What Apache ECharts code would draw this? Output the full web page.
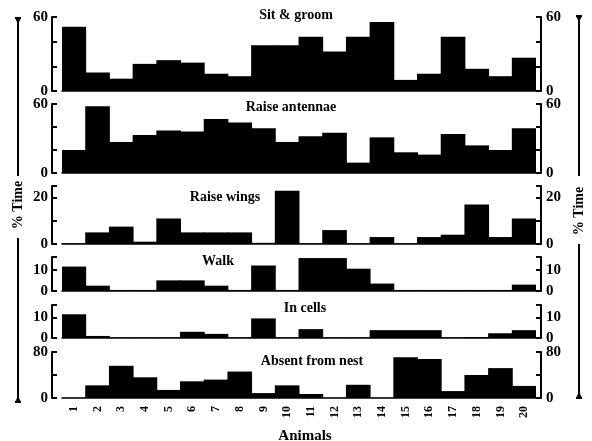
<!DOCTYPE html>
<html>
<head>
<meta charset="utf-8">
<script src="https://cdn.jsdelivr.net/npm/echarts@6/dist/echarts.min.js"></script>
<style>
  html, body { margin: 0; padding: 0; background: #fff; }
  #chart { width: 592px; height: 441px; }
</style>
</head>
<body>
<div id="chart"></div>
<script>
// Percentage of time each of 20 animals spent on each behaviour
const animals = ['1','2','3','4','5','6','7','8','9','10','11','12','13','14','15','16','17','18','19','20'];

const sitGroom      = [52, 15, 10, 22, 25, 23, 14, 12, 37, 37, 44, 32, 44, 56, 9, 14, 44, 18, 12, 27];
const raiseAntennae = [20, 58, 27, 33, 37, 36, 47, 44, 39, 27, 32, 35, 9, 31, 18, 16, 34, 24, 20, 39];
const raiseWings    = [0.3, 5, 7.5, 1, 11, 5, 5, 5, 0.5, 23, 0.3, 6, 0.3, 3, 0.3, 3, 4, 17, 3, 11];
const walk          = [11.5, 2.5, 0.5, 0.5, 5, 5, 2.5, 0.5, 12, 0.5, 15.5, 15.5, 10.5, 3.5, 0.5, 0.5, 0.5, 0.5, 0.5, 3];
const inCells       = [11.5, 1, 0.3, 0.3, 0.3, 3, 2, 0.3, 9.5, 0.3, 4.3, 0.3, 0.3, 3.8, 3.8, 3.8, 0.3, 0.5, 2.3, 3.8];
const absentNest    = [0.5, 22, 56, 36, 14, 29, 32, 46, 8.5, 22, 7, 0.5, 23, 0.5, 71, 68, 12, 40, 52, 21];

const panelNames  = ['Sit & groom', 'Raise antennae', 'Raise wings', 'Walk', 'In cells', 'Absent from nest'];
const panelSeries = [sitGroom, raiseAntennae, raiseWings, walk, inCells, absentNest];
const axisMax     = [60, 60, 25, 16, 16, 80];
const tickValues  = [[0, 20, 40, 60], [0, 20, 40, 60], [0, 10, 20, 25], [0, 10, 16], [0, 10, 16], [0, 40, 80]];
const tickLabels  = [[0, 60], [0, 60], [0, 20], [0, 10], [0, 10], [0, 80]];

// Layout of the stacked panels
const plotLeft = 62, plotWidth = 474;
const panelTop    = [17, 104, 186, 257, 305, 352];
const panelHeight = [74, 69, 58, 34, 33, 46];
const titlePos    = [[296, 15], [291, 107], [225, 197], [218, 261], [305, 308], [312, 361]];

const serif = '"Liberation Serif", "DejaVu Serif", serif';
const ink = '#000';

const grid = [], xAxis = [], yAxis = [], series = [], graphic = [];

panelSeries.forEach((values, i) => {
  const last = i === panelSeries.length - 1;
  grid.push({ left: plotLeft, width: plotWidth, top: panelTop[i], height: panelHeight[i] });
  xAxis.push({
    type: 'category', gridIndex: i, data: animals,
    axisLine: { show: true, lineStyle: { color: ink, width: 1.5 } },
    axisTick: { show: false },
    axisLabel: last ? { show: true, rotate: 90, margin: 8, color: ink, fontFamily: serif, fontWeight: 'bold', fontSize: 12 } : { show: false }
  });
  const axisCommon = {
    type: 'value', gridIndex: i, min: 0, max: axisMax[i],
    splitLine: { show: false },
    axisLine: { show: true, lineStyle: { color: ink, width: 2 } },
    axisTick: { show: true, inside: true, length: 5, customValues: tickValues[i], lineStyle: { color: ink, width: 2 } },
    axisLabel: { show: true, customValues: tickLabels[i], color: ink, fontFamily: serif, fontWeight: 'bold', fontSize: 15 }
  };
  yAxis.push(Object.assign({}, axisCommon, { position: 'left', offset: 10,
    axisLabel: Object.assign({}, axisCommon.axisLabel, { margin: 4 }) }));
  yAxis.push(Object.assign({}, axisCommon, { position: 'right', offset: 5,
    axisLabel: Object.assign({}, axisCommon.axisLabel, { margin: 5 }) }));
  // adjacent bars slightly overlap so the columns merge into one solid block
  series.push({
    type: 'bar', name: panelNames[i], xAxisIndex: i, yAxisIndex: 2 * i,
    data: values, barWidth: '104%',
    itemStyle: { color: ink }, silent: true
  });
  graphic.push({
    type: 'text', x: titlePos[i][0], y: titlePos[i][1],
    style: { text: panelNames[i], fill: ink, font: 'bold 14px ' + serif, textAlign: 'center', textVerticalAlign: 'middle' }
  });
});

// "Animals" axis title
graphic.push({
  type: 'text', x: 305, y: 436,
  style: { text: 'Animals', fill: ink, font: 'bold 15px ' + serif, textAlign: 'center', textVerticalAlign: 'middle' }
});

// Vertical "% Time" dimension markers on both sides
function dimension(x, top, gapTop, gapBottom, bottom, labelY) {
  const ls = { stroke: ink, lineWidth: 2 };
  graphic.push({ type: 'line', shape: { x1: x, y1: top, x2: x, y2: gapTop }, style: ls });
  graphic.push({ type: 'line', shape: { x1: x, y1: gapBottom, x2: x, y2: bottom }, style: ls });
  graphic.push({ type: 'line', shape: { x1: x - 3, y1: top, x2: x + 3, y2: top }, style: ls });
  graphic.push({ type: 'line', shape: { x1: x - 3, y1: bottom, x2: x + 3, y2: bottom }, style: ls });
  graphic.push({ type: 'polygon', shape: { points: [[x - 3, top], [x + 3, top], [x, top + 6]] }, style: { fill: ink } });
  graphic.push({ type: 'polygon', shape: { points: [[x - 3, bottom], [x + 3, bottom], [x, bottom - 6]] }, style: { fill: ink } });
  graphic.push({
    type: 'text', x: x, y: labelY, rotation: Math.PI / 2,
    style: { text: '% Time', fill: ink, font: 'bold 14px ' + serif, textAlign: 'center', textVerticalAlign: 'middle' }
  });
}
dimension(18, 18, 176, 238, 402, 205);
dimension(579, 16, 176, 244, 398, 211);

const chart = echarts.init(document.getElementById('chart'), null, { renderer: 'canvas' });
chart.setOption({
  backgroundColor: '#fff',
  animation: false,
  grid, xAxis, yAxis, series, graphic
});
</script>
</body>
</html>
